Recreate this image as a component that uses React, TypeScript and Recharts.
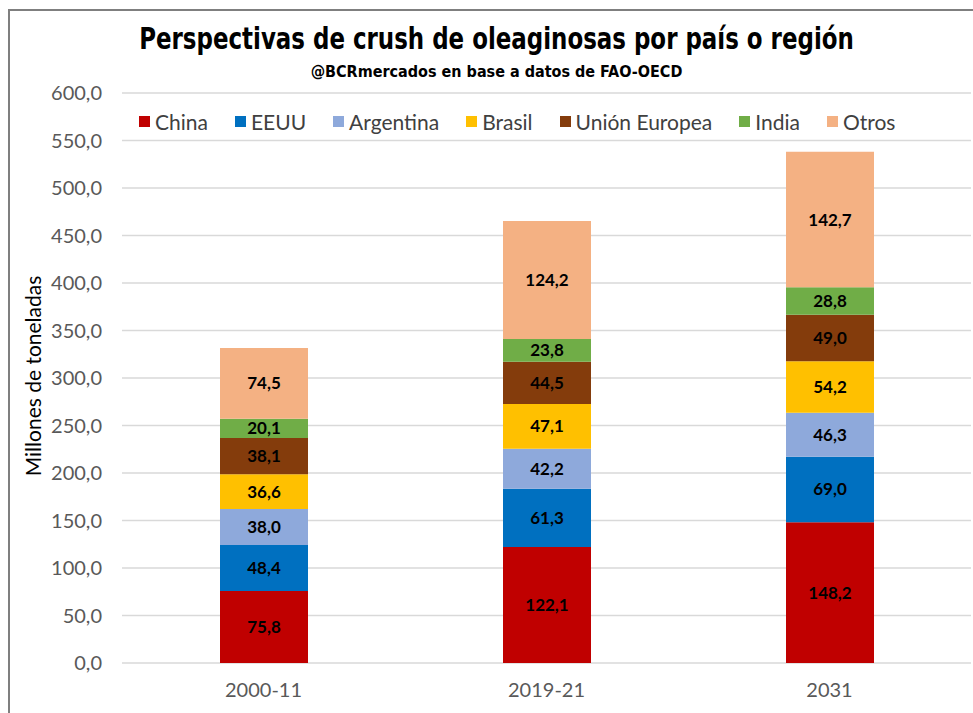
import { BarChart, Bar, XAxis, YAxis, CartesianGrid, LabelList } from "recharts";

const periods = ["2000-11", "2019-21", "2031"];
const china = [75.8, 122.1, 148.2];
const eeuu = [48.4, 61.3, 69.0];
const argentina = [38.0, 42.2, 46.3];
const brasil = [36.6, 47.1, 54.2];
const unionEuropea = [38.1, 44.5, 49.0];
const india = [20.1, 23.8, 28.8];
const otros = [74.5, 124.2, 142.7];
const yTicks = [0, 50, 100, 150, 200, 250, 300, 350, 400, 450, 500, 550, 600];

const series = [
  { key: "china", name: "China", color: "#C00000", values: china },
  { key: "eeuu", name: "EEUU", color: "#0070C0", values: eeuu },
  { key: "argentina", name: "Argentina", color: "#8EA9DB", values: argentina },
  { key: "brasil", name: "Brasil", color: "#FFC000", values: brasil },
  { key: "ue", name: "Unión Europea", color: "#843C0C", values: unionEuropea },
  { key: "india", name: "India", color: "#70AD47", values: india },
  { key: "otros", name: "Otros", color: "#F4B183", values: otros },
];

const data = periods.map((p, i) => {
  const row: Record<string, string | number> = { period: p };
  series.forEach((s) => (row[s.key] = s.values[i]));
  return row;
});

const fmt = (v: number) => v.toFixed(1).replace(".", ",");
const FONT = "Lato, 'Open Sans', sans-serif";

function LegendRow() {
  return (
    <div
      style={{
        position: "absolute",
        top: 109,
        left: 139,
        display: "flex",
        gap: 27,
        fontFamily: FONT,
        fontSize: 21,
        color: "#404040",
        whiteSpace: "nowrap",
      }}
    >
      {series.map((s) => (
        <div key={s.key} style={{ display: "flex", alignItems: "center" }}>
          <span style={{ width: 11, height: 11, background: s.color, marginRight: 5, display: "inline-block" }} />
          {s.name}
        </div>
      ))}
    </div>
  );
}

export default function App() {
  return (
    <div style={{ position: "absolute", left: 0, top: 0, width: 973, height: 713, background: "#fff", overflow: "hidden" }}>
      <div
        style={{
          position: "absolute",
          left: 8,
          top: 9,
          width: 980,
          height: 720,
          borderTop: "2px solid #7F7F7F",
          borderLeft: "2px solid #7F7F7F",
        }}
      />
      <BarChart
        width={973}
        height={713}
        data={data}
        margin={{ top: 93, right: 2, bottom: 20, left: 0 }}
        style={{ position: "absolute", left: 0, top: 0 }}
      >
        <CartesianGrid vertical={false} stroke="#D9D9D9" strokeWidth={1.5} />
        <XAxis
          dataKey="period"
          axisLine={false}
          tickLine={false}
          tick={{ fill: "#595959", fontSize: 20, fontFamily: FONT }}
          dy={12}
        />
        <YAxis
          width={122}
          domain={[0, 600]}
          ticks={yTicks}
          tickFormatter={fmt}
          axisLine={false}
          tickLine={false}
          tick={{ fill: "#595959", fontSize: 20, fontFamily: FONT }}
          dx={-12}
        />
        {series.map((s) => (
          <Bar key={s.key} dataKey={s.key} stackId="a" fill={s.color} barSize={88} isAnimationActive={false}>
            <LabelList
              dataKey={s.key}
              position="center"
              formatter={(v: number) => fmt(v)}
              style={{ fill: "#000", fontWeight: 700, fontSize: 17, fontFamily: FONT }}
            />
          </Bar>
        ))}
      </BarChart>
      <div
        style={{
          position: "absolute",
          top: 20,
          left: 10,
          width: 973,
          textAlign: "center",
          fontFamily: "'DejaVu Sans Condensed', 'DejaVu Sans', sans-serif",
          fontWeight: 700,
          fontSize: 30,
          color: "#000",
          transform: "scaleX(0.85)",
          lineHeight: "38px",
        }}
      >
        Perspectivas de crush de oleaginosas por país o región
      </div>
      <div
        style={{
          position: "absolute",
          top: 62,
          left: 10,
          width: 973,
          textAlign: "center",
          fontFamily: "'DejaVu Sans Condensed', 'DejaVu Sans', sans-serif",
          fontWeight: 700,
          fontSize: 16,
          color: "#000",
        }}
      >
        @BCRmercados en base a datos de FAO-OECD
      </div>
      <LegendRow />
      <div
        style={{
          position: "absolute",
          left: 32,
          top: 376,
          transform: "translate(-50%, -50%) rotate(-90deg)",
          fontFamily: FONT,
          fontSize: 21,
          color: "#000",
          whiteSpace: "nowrap",
        }}
      >
        Millones de toneladas
      </div>
    </div>
  );
}
